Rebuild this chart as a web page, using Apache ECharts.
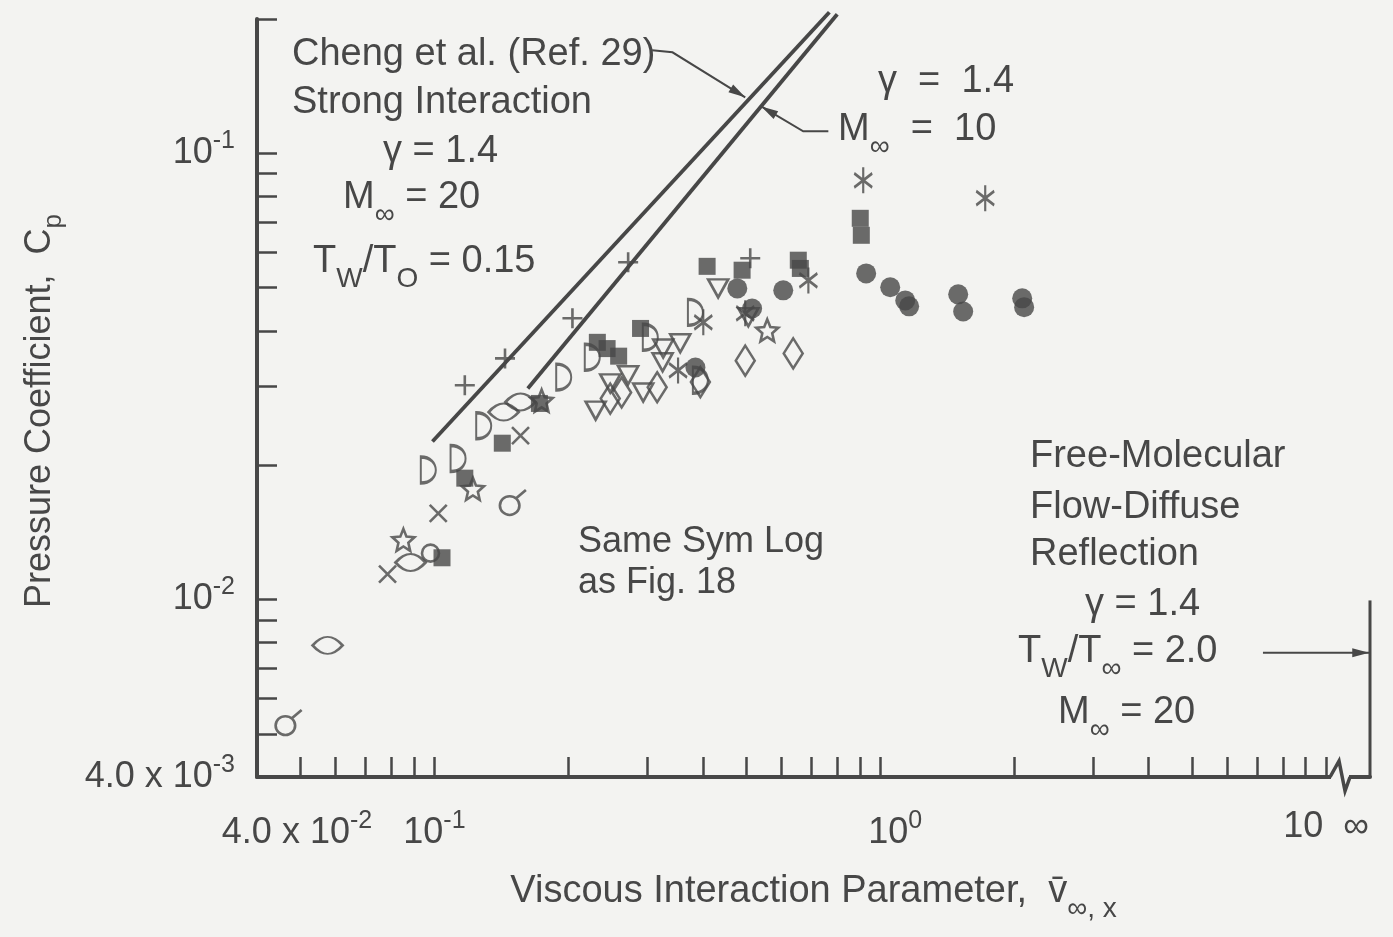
<!DOCTYPE html>
<html>
<head>
<meta charset="utf-8">
<title>Pressure coefficient vs viscous interaction parameter</title>
<script src="https://cdn.jsdelivr.net/npm/echarts@6/dist/echarts.min.js"></script>
<style>
  html, body { margin: 0; padding: 0; background: #f3f3f1; }
  #chart { width: 1393px; height: 937px; }
</style>
</head>
<body>
<div id="chart"></div>
<script>
// Cp against viscous interaction parameter, log-log.

// ---- axes ----
var xTicks = [0.05, 0.06, 0.07, 0.08, 0.09, 0.1, 0.2, 0.3, 0.4, 0.5, 0.6, 0.7, 0.8, 0.9,
              1, 2, 3, 4, 5, 6, 7, 8, 9, 10];
var yTicks = [0.005, 0.006, 0.007, 0.008, 0.009, 0.01, 0.02, 0.03, 0.04,
              0.05, 0.06, 0.07, 0.08, 0.09, 0.1, 0.2];
var xLabelVals = [0.04, 0.1, 1, 10];
var xLabelBase = ['4.0 x 10', '10', '10', '10  \u221e'];
var xLabelExp = ['-2', '-1', '0', ''];
var yLabelVals = [0.004, 0.01, 0.1];
var yLabelBase = ['4.0 x 10', '10', '10'];
var yLabelExp = ['-3', '-2', '-1'];
var xMin = 0.04, xEnd = 12.55;   // xEnd = the "infinity" end after the break
var yMin = 0.004, yMax = 0.2;
var xBreak = 10.75;

// ---- theory (Cheng et al., strong interaction) ----
var chengM20 = [[0.099, 0.0226], [0.769, 0.207]];
var chengM10 = [[0.162, 0.0297], [0.801, 0.205]];

// ---- free-molecular limit at v = infinity ----
var infLine = [[xEnd, 0.004], [xEnd, 0.00995]];

// ---- leader lines (last point gets the arrow head) ----
var leaderCheng = [[0.308, 0.1702], [0.342, 0.1684], [0.498, 0.1335]];
var leaderM10 = [[0.765, 0.112], [0.672, 0.112], [0.541, 0.1274]];
var freeMolArrow = [[7.22, 0.0076], [12.5, 0.0076]];

// ---- data points ----
var plusPts = [[0.117, 0.0302], [0.144, 0.0347], [0.204, 0.0427], [0.272, 0.0570], [0.511, 0.0582]];
var crossPts = [[0.0785, 0.0114], [0.102, 0.0156], [0.156, 0.0233]];
var squarePts = [[0.104, 0.0124], [0.117, 0.0187], [0.142, 0.0224], [0.172, 0.0275],
                 [0.232, 0.0377], [0.244, 0.0365], [0.259, 0.0351], [0.290, 0.0405],
                 [0.409, 0.0558], [0.490, 0.0547], [0.655, 0.0576], [0.662, 0.0552],
                 [0.902, 0.0715], [0.907, 0.0655]];
var dotPts = [[0.478, 0.0498], [0.606, 0.0493], [0.516, 0.0449], [0.385, 0.0331],
              [0.930, 0.0538], [1.053, 0.0501], [1.138, 0.0468], [1.161, 0.0454],
              [1.496, 0.0483], [1.535, 0.0442], [2.082, 0.0473], [2.103, 0.0452]];
var asteriskPts = [[0.916, 0.0870], [1.72, 0.0793], [0.690, 0.0519], [0.401, 0.0418],
                   [0.352, 0.0326], [0.498, 0.0438]];
var halfDiscPts = [[0.0969, 0.0195], [0.113, 0.0207], [0.129, 0.0245], [0.195, 0.0315],
                   [0.226, 0.0349], [0.305, 0.0387], [0.385, 0.0440], [0.395, 0.0310]];
var lensPts = [[0.0576, 0.00789], [0.0884, 0.0121], [0.143, 0.0263], [0.156, 0.0277]];
var starPts = [[0.0852, 0.0136], [0.122, 0.0177], [0.174, 0.0279], [0.558, 0.0401]];
var trianglePts = [[0.230, 0.0265], [0.248, 0.0305], [0.272, 0.0318], [0.294, 0.0291],
                   [0.326, 0.0365], [0.356, 0.0375], [0.325, 0.0340], [0.433, 0.0498],
                   [0.506, 0.0429]];
var diamondPts = [[0.248, 0.0282], [0.263, 0.0291], [0.316, 0.0299], [0.395, 0.0307],
                  [0.498, 0.0343], [0.638, 0.0356]];
var tailCirclePts = [[0.0471, 0.0053], [0.150, 0.0165]];
var ringPts = [[0.0980, 0.0127]];

// ---- look ----
var ink = '#474747';
var bg = '#f3f3f1';
var fam = "'Liberation Sans', Arial, sans-serif";
var xLabelGap = [80, 0, 30, 0];

var symStar = 'path://M10,0L12.65,6.36L19.51,6.91L14.28,11.39L15.88,18.09L10,14.5L4.12,18.09L5.72,11.39L0.49,6.91L7.35,6.36Z';
var symPlus = 'path://M0,10L20,10M10,0L10,20';
var symCross = 'path://M0,0L20,20M20,0L0,20';
var symAsterisk = 'path://M10,0L10,26M0,6L20,20M20,6L0,20';
var symHalfDisc = 'path://M0,0C17,0 17,22 0,22Z';
var symLens = 'path://M0,8Q15,-4 30,8Q15,20 0,8Z';
var symTriangle = 'path://M0,0L20,0L10,17Z';
var symTailCircle = 'path://M0,15A9,9 0 1 0 18,15A9,9 0 1 0 0,15Z M15,8L24,0';

var noteRich = {
  n: { fontSize: 38, fontFamily: fam, color: ink },
  m: { fontSize: 36, fontFamily: fam, color: ink },
  s: { fontSize: 28, fontFamily: fam, color: ink, padding: [34, 0, 0, 0] }
};
var tickRich = {
  b: { fontSize: 36, fontFamily: fam, color: ink },
  e: { fontSize: 25, fontFamily: fam, color: ink, padding: [0, 0, 24, 0] }
};
xLabelGap.forEach(function (g, i) { tickRich['g' + i] = { width: g, fontSize: 10 }; });

function pick(vals, v) {
  var best = 0;
  for (var i = 1; i < vals.length; i++) {
    if (Math.abs(Math.log(vals[i] / v)) < Math.abs(Math.log(vals[best] / v))) best = i;
  }
  return best;
}

function pts(data, symbol, size, filled) {
  return {
    type: 'scatter', data: data, symbol: symbol, symbolSize: size,
    itemStyle: filled ? { color: ink } : { color: 'rgba(0,0,0,0)', borderColor: ink, borderWidth: 2.6 },
    z: 4, silent: true, clip: false
  };
}

function note(x, y, text) {
  return {
    type: 'text', x: x, y: y, z: 10, silent: true,
    style: { text: text, rich: noteRich, fill: ink, align: 'left', verticalAlign: 'middle' }
  };
}

var arrowPaths = [leaderCheng, leaderM10, freeMolArrow];

var option = {
  backgroundColor: bg,
  animation: false,
  textStyle: { fontFamily: fam },
  grid: { left: 257, right: 23, top: 19, bottom: 160, outerBoundsMode: 'none' },
  xAxis: {
    type: 'log', min: xMin, max: xEnd,
    axisLine: { onZero: false, lineStyle: { color: ink, width: 4 } },
    axisTick: { customValues: xTicks, inside: true, length: 20, lineStyle: { color: ink, width: 2.5 } },
    axisLabel: {
      customValues: xLabelVals, margin: 32, color: ink, rich: tickRich,
      formatter: function (v) {
        var i = pick(xLabelVals, v);
        var s = (xLabelGap[i] ? '{g' + i + '| }' : '') + '{b|' + xLabelBase[i] + '}';
        if (xLabelExp[i]) s += '{e|' + xLabelExp[i] + '}';
        return s;
      }
    },
    splitLine: { show: false },
    minorTick: { show: false },
    name: '{n|Viscous Interaction Parameter,  v\u0304}{s|\u221e, x}',
    nameLocation: 'middle', nameGap: 84,
    nameTextStyle: { rich: noteRich }
  },
  yAxis: {
    type: 'log', min: yMin, max: yMax,
    axisLine: { onZero: false, lineStyle: { color: ink, width: 4 } },
    axisTick: { customValues: yTicks, inside: true, length: 20, lineStyle: { color: ink, width: 2.5 } },
    axisLabel: {
      customValues: yLabelVals, margin: 22, color: ink, rich: tickRich,
      formatter: function (v) {
        var i = pick(yLabelVals, v);
        return '{b|' + yLabelBase[i] + '}{e|' + yLabelExp[i] + '}';
      }
    },
    splitLine: { show: false },
    minorTick: { show: false },
    name: '{n|Pressure Coefficient,  C}{s|p}',
    nameLocation: 'middle', nameGap: 190,
    nameTextStyle: {
      padding: [0, 26, 0, 0],
      rich: { n: { fontSize: 36, fontFamily: fam, color: ink },
              s: { fontSize: 26, fontFamily: fam, color: ink, padding: [28, 0, 0, 0] } }
    }
  },
  series: [
    { type: 'line', data: chengM20, showSymbol: false, clip: false, silent: true, z: 3,
      lineStyle: { color: ink, width: 3.8 } },
    { type: 'line', data: chengM10, showSymbol: false, clip: false, silent: true, z: 3,
      lineStyle: { color: ink, width: 3.8 } },
    { type: 'line', data: infLine, showSymbol: false, clip: false, silent: true, z: 3,
      lineStyle: { color: ink, width: 3 } },
    {
      // leader lines with arrow heads
      type: 'custom', silent: true, z: 5, clip: false,
      data: arrowPaths.map(function (p) { return p[p.length - 1]; }),
      renderItem: function (params, api) {
        var p = arrowPaths[params.dataIndex].map(function (d) { return api.coord(d); });
        var tip = p[p.length - 1], prev = p[p.length - 2];
        var a = Math.atan2(tip[1] - prev[1], tip[0] - prev[0]);
        var L = 17, W = 4.5;
        var bx = tip[0] - L * Math.cos(a), by = tip[1] - L * Math.sin(a);
        return {
          type: 'group', children: [
            { type: 'polyline', shape: { points: p }, style: { stroke: ink, lineWidth: 2, fill: null } },
            { type: 'polygon', shape: { points: [tip, [bx - W * Math.sin(a), by + W * Math.cos(a)],
                                                   [bx + W * Math.sin(a), by - W * Math.cos(a)]] },
              style: { fill: ink } }
          ]
        };
      }
    },
    {
      // axis break squiggle
      type: 'custom', silent: true, z: 6, clip: false,
      data: [[xBreak, yMin]],
      renderItem: function (params, api) {
        var c = api.coord([api.value(0), api.value(1)]);
        return {
          type: 'group', children: [
            { type: 'rect', shape: { x: c[0] - 9, y: c[1] - 4, width: 18, height: 8 }, style: { fill: bg } },
            { type: 'polyline', shape: { points: [[c[0] - 10, c[1]], [c[0] - 1, c[1] - 16],
                                                   [c[0] + 5, c[1] + 14], [c[0] + 10, c[1]]] },
              style: { stroke: ink, lineWidth: 3.5, fill: null } }
          ]
        };
      }
    },
    pts(plusPts, symPlus, 20, false),
    pts(crossPts, symCross, 17, false),
    pts(squarePts, 'rect', 17, true),
    pts(dotPts, 'circle', 20, true),
    pts(asteriskPts, symAsterisk, [18, 26], false),
    pts(halfDiscPts, symHalfDisc, [15, 26], false),
    pts(lensPts, symLens, [30, 17], false),
    pts(starPts, symStar, 22, false),
    pts(trianglePts, symTriangle, [20, 18], false),
    pts(diamondPts, 'diamond', [19, 30], false),
    pts(tailCirclePts, symTailCircle, [26, 25], false),
    pts(ringPts, 'circle', 17, false)
  ],
  graphic: [
    note(292, 55, '{n|Cheng et al. (Ref. 29)}'),
    note(292, 103, '{n|Strong Interaction}'),
    note(383, 152, '{n|\u03b3 = 1.4}'),
    note(343, 198, '{n|M}{s|\u221e}{n| = 20}'),
    note(313, 262, '{n|T}{s|W}{n|/T}{s|O}{n| = 0.15}'),
    note(878, 82, '{n|\u03b3  =  1.4}'),
    note(838, 130, '{n|M}{s|\u221e}{n|  =  10}'),
    note(578, 542, '{m|Same Sym Log}'),
    note(578, 583, '{m|as Fig. 18}'),
    note(1030, 457, '{n|Free-Molecular}'),
    note(1030, 508, '{n|Flow-Diffuse}'),
    note(1030, 555, '{n|Reflection}'),
    note(1085, 605, '{n|\u03b3 = 1.4}'),
    note(1018, 652, '{n|T}{s|W}{n|/T}{s|\u221e}{n| = 2.0}'),
    note(1058, 713, '{n|M}{s|\u221e}{n| = 20}')
  ]
};

var chart = echarts.init(document.getElementById('chart'));
chart.setOption(option);
</script>
</body>
</html>
